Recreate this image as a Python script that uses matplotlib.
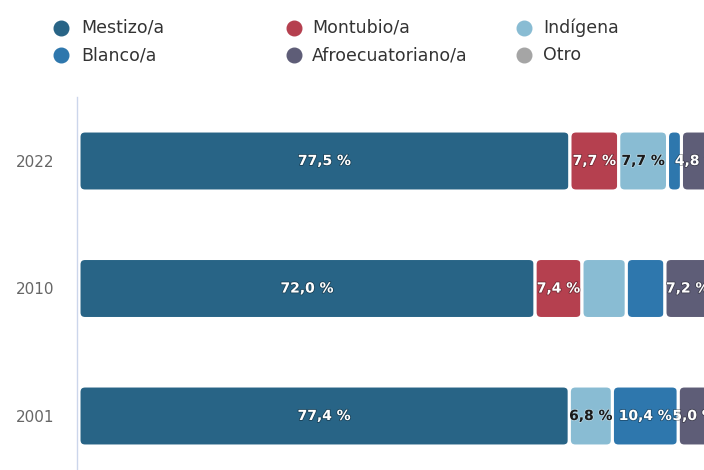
import matplotlib
matplotlib.use("Agg")
import matplotlib.pyplot as plt
from matplotlib.patches import FancyBboxPatch
from matplotlib.lines import Line2D
import matplotlib.patheffects as pe
import matplotlib.colors as mcolors

# ---------------- data ----------------
years = ["2022", "2010", "2001"]
series_names = ["Mestizo/a", "Montubio/a", "Indígena", "Blanco/a", "Afroecuatoriano/a", "Otro"]
mestizo = [77.5, 72.0, 77.4]
montubio = [7.7, 7.4, 0.0]
indigena = [7.7, 7.0, 6.8]
blanco = [2.2, 6.1, 10.4]
afro = [4.8, 7.2, 5.0]
otro = [0.1, 0.4, 0.3]
series_values = [mestizo, montubio, indigena, blanco, afro, otro]
colors = ["#286486", "#b5404f", "#89bcd3", "#2e77ad", "#5e5d77", "#a5a5a5"]
# labels hidden by overlap in the original chart
hidden_labels = [("Indígena", "2010"), ("Blanco/a", "2010")]

# ---------------- figure ----------------
W, H = 704, 470
fig = plt.figure(figsize=(W / 100, H / 100), dpi=100)
fig.patch.set_facecolor("white")

# plot area in pixels (top-based)
x0, x1 = 79.0, 712.5
y0, y1 = 97.25, 479.75
ax = fig.add_axes([x0 / W, 1 - y1 / H, (x1 - x0) / W, (y1 - y0) / H])
ax.set_xlim(0, 100)
ax.set_ylim(len(years) - 0.5, -0.5)
ax.set_facecolor("white")

px_per_x = (x1 - x0) / 100.0
px_per_y = (y1 - y0) / len(years)
bar_h = 60.0 / px_per_y
radius_px = 6.0
aspect = px_per_x / px_per_y

for i, yr in enumerate(years):
    left = 0.0
    for name, vals, col in zip(series_names, series_values, colors):
        v = vals[i]
        if v > 0:
            patch = FancyBboxPatch((left, i - bar_h / 2), v, bar_h,
                                   boxstyle=f"round,pad=0,rounding_size={radius_px / px_per_x}",
                                   mutation_aspect=aspect,
                                   facecolor=col, edgecolor="white", linewidth=2.2,
                                   zorder=2)
            ax.add_patch(patch)
            show = v >= 3 and (name, yr) not in hidden_labels
            if show:
                r, g, b = mcolors.to_rgb(col)
                lum = 0.299 * r + 0.587 * g + 0.114 * b
                tc = "#ffffff" if lum < 0.6 else "#1a1a1a"
                oc = "#000000" if lum < 0.6 else "#ffffff"
                txt = f"{v:.1f}".replace(".", ",") + " %"
                ax.text(left + v / 2, i, txt, ha="center", va="center",
                        fontsize=10, fontweight="bold", color=tc, zorder=3,
                        path_effects=[pe.withStroke(linewidth=1.2, foreground=oc, alpha=0.35)])
        left += v

ax.set_yticks(range(len(years)))
ax.set_yticklabels(years)
ax.tick_params(axis="y", length=0, pad=16, labelsize=11, labelcolor="#666666")
ax.set_xticks([])
for s in ["top", "right", "bottom"]:
    ax.spines[s].set_visible(False)
ax.spines["left"].set_color("#ccd6eb")
ax.spines["left"].set_linewidth(1)
ax.spines["left"].set_position(("outward", 1.5))

# ---------------- legend ----------------
marker_x = [61, 294, 524]
text_x = [81, 312, 543]
row_y = [28, 55]
for k, (name, col) in enumerate(zip(series_names, colors)):
    c, r = k % 3, k // 3
    fy = 1 - row_y[r] / H
    fig.add_artist(Line2D([marker_x[c] / W], [fy], transform=fig.transFigure,
                          marker="o", markersize=10.5, color=col, linestyle="none"))
    fig.text(text_x[c] / W, fy, name, ha="left", va="center",
             fontsize=12.5, color="#333333")

fig.savefig("out.png", dpi=100)
